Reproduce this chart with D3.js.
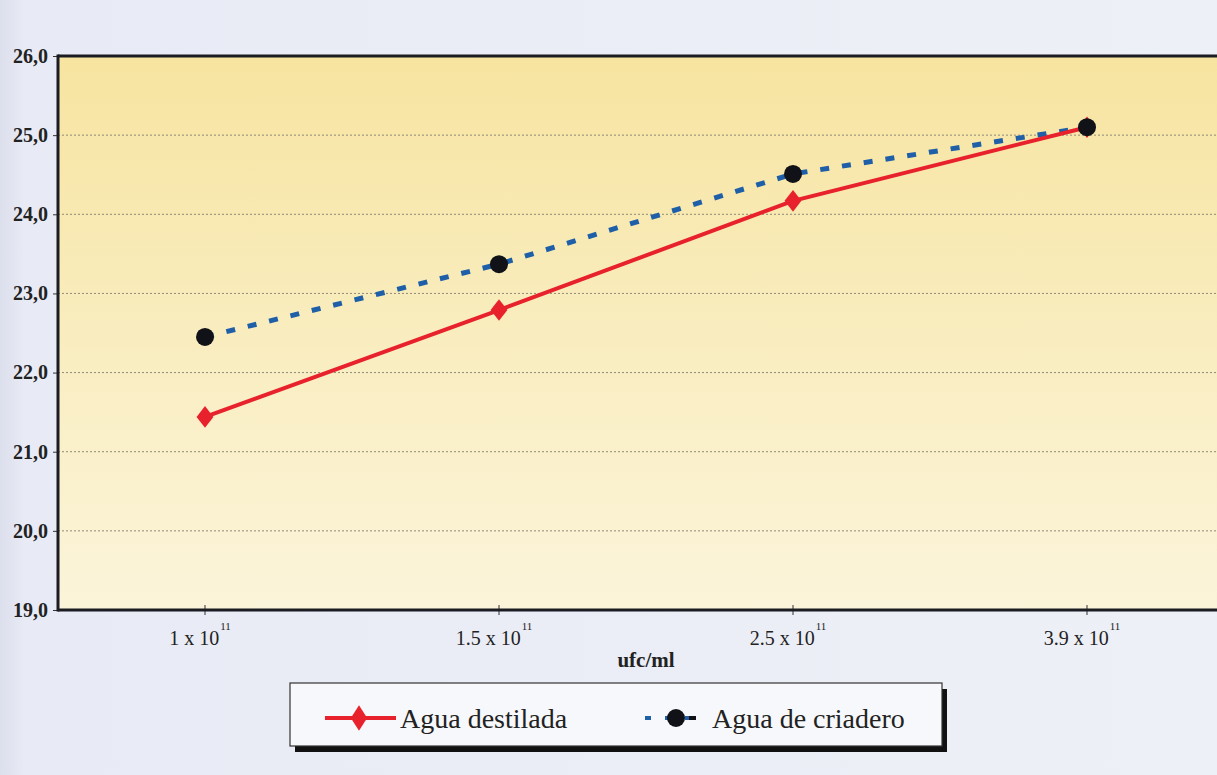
<!DOCTYPE html>
<html>
<head>
<meta charset="utf-8">
<script src="https://cdn.jsdelivr.net/npm/d3@7"></script>
<style>
  body { margin: 0; background: #e9ecf5; overflow: hidden; }
  svg { display: block; }
  text { font-family: "Liberation Serif", "DejaVu Serif", serif; fill: #222; }
</style>
</head>
<body>
<div id="chart"></div>
<script>
// data
var categories = ["1 x 10", "1.5 x 10", "2.5 x 10", "3.9 x 10"];
var exponent = "11";
var destilada = [21.44, 22.79, 24.17, 25.10];
var criadero = [22.45, 23.37, 24.51, 25.10];
var yTicks = [19, 20, 21, 22, 23, 24, 25, 26];

var W = 1217, H = 775;
// plot area runs off the right edge, like the scan
var margin = {top: 56, left: 58},
    plotRight = 1234,
    plotBottom = 610;

var svg = d3.select("#chart").append("svg")
  .attr("width", W)
  .attr("height", H);

var defs = svg.append("defs");
var grad = defs.append("linearGradient")
  .attr("id", "plotbg")
  .attr("x1", 0).attr("y1", 0).attr("x2", 0).attr("y2", 1);
grad.append("stop").attr("offset", "0%").attr("stop-color", "#f7e4a0");
grad.append("stop").attr("offset", "50%").attr("stop-color", "#f9edbf");
grad.append("stop").attr("offset", "100%").attr("stop-color", "#fbf4da");

var pageGrad = defs.append("linearGradient")
  .attr("id", "pagebg")
  .attr("x1", 0).attr("y1", 0).attr("x2", 1).attr("y2", 0);
pageGrad.append("stop").attr("offset", "0%").attr("stop-color", "#dcdfec");
pageGrad.append("stop").attr("offset", "2%").attr("stop-color", "#e8ebf5");
pageGrad.append("stop").attr("offset", "100%").attr("stop-color", "#eef0f7");

svg.append("rect")
  .attr("width", W).attr("height", H)
  .attr("fill", "url(#pagebg)");

var x = d3.scaleBand()
  .domain(categories)
  .range([margin.left, plotRight])
  .padding(0);

var y = d3.scaleLinear()
  .domain([19, 26])
  .range([plotBottom, margin.top]);

function cx(i) { return x(categories[i]) + x.bandwidth() / 2; }

// plot background
svg.append("rect")
  .attr("x", margin.left)
  .attr("y", margin.top)
  .attr("width", plotRight - margin.left)
  .attr("height", plotBottom - margin.top)
  .attr("fill", "url(#plotbg)");

// dotted gridlines
svg.append("g")
  .selectAll("line")
  .data(yTicks.filter(function(d) { return d > 19 && d < 26; }))
  .enter().append("line")
  .attr("x1", margin.left)
  .attr("x2", plotRight)
  .attr("y1", function(d) { return y(d); })
  .attr("y2", function(d) { return y(d); })
  .attr("stroke", "#8f8a78")
  .attr("stroke-width", 1)
  .attr("stroke-dasharray", "2,2");

// y axis
var yAxis = d3.axisLeft(y)
  .tickValues(yTicks)
  .tickSize(5)
  .tickFormat(function(d) { return d3.format(".1f")(d).replace(".", ","); });

var gy = svg.append("g")
  .attr("transform", "translate(" + margin.left + ",0)")
  .call(yAxis);
gy.select(".domain").remove();
gy.selectAll(".tick line").attr("stroke", "#333");
gy.selectAll(".tick text")
  .attr("x", -10)
  .style("font-size", "20px")
  .style("font-weight", "bold")
  .attr("fill", "#2a2a2a");

// frame lines: top, left, bottom
svg.append("line")
  .attr("x1", margin.left).attr("x2", plotRight)
  .attr("y1", margin.top).attr("y2", margin.top)
  .attr("stroke", "#1b1b22").attr("stroke-width", 3);
svg.append("line")
  .attr("x1", margin.left).attr("x2", margin.left)
  .attr("y1", margin.top - 1.5).attr("y2", plotBottom + 1.5)
  .attr("stroke", "#1b1b22").attr("stroke-width", 3);

// x axis
var xAxis = d3.axisBottom(x).tickSize(6).tickFormat("");
var gx = svg.append("g")
  .attr("transform", "translate(0," + plotBottom + ")")
  .call(xAxis);
gx.select(".domain").remove();
gx.selectAll(".tick line")
  .attr("y1", -5).attr("y2", 5)
  .attr("stroke", "#333");
svg.append("line")
  .attr("x1", margin.left).attr("x2", plotRight)
  .attr("y1", plotBottom).attr("y2", plotBottom)
  .attr("stroke", "#1b1b22").attr("stroke-width", 3);

// category labels with exponent
var labels = svg.append("g").selectAll("text")
  .data(categories)
  .enter().append("text")
  .attr("x", function(d) { return x(d) + x.bandwidth() / 2 - 5; })
  .attr("y", 645)
  .attr("text-anchor", "middle")
  .style("font-size", "20px");
labels.append("tspan").text(function(d) { return d; });
labels.append("tspan")
  .attr("dy", -15)
  .attr("dx", 1)
  .style("font-size", "11px")
  .text(exponent);

svg.append("text")
  .attr("x", 646)
  .attr("y", 667)
  .attr("text-anchor", "middle")
  .style("font-size", "21px")
  .style("font-weight", "bold")
  .text("ufc/ml");

// lines
var line = d3.line()
  .x(function(d, i) { return cx(i); })
  .y(function(d) { return y(d); });

svg.append("path")
  .datum(criadero)
  .attr("d", line)
  .attr("fill", "none")
  .attr("stroke", "#1e5fa8")
  .attr("stroke-width", 5)
  .attr("stroke-dasharray", "9,13");

svg.append("path")
  .datum(destilada)
  .attr("d", line)
  .attr("fill", "none")
  .attr("stroke", "#e8222c")
  .attr("stroke-width", 4);

var diamond = d3.symbol().type(d3.symbolDiamond).size(135);

svg.append("g").selectAll("path")
  .data(destilada)
  .enter().append("path")
  .attr("d", diamond)
  .attr("transform", function(d, i) { return "translate(" + cx(i) + "," + y(d) + ") scale(1.35,1)"; })
  .attr("fill", "#e8222c");

svg.append("g").selectAll("circle")
  .data(criadero)
  .enter().append("circle")
  .attr("cx", function(d, i) { return cx(i); })
  .attr("cy", function(d) { return y(d); })
  .attr("r", 9)
  .attr("fill", "#111118");

// legend box with shadow
var lg = svg.append("g");
lg.append("rect")
  .attr("x", 295).attr("y", 689)
  .attr("width", 652).attr("height", 63)
  .attr("fill", "#111");
lg.append("rect")
  .attr("x", 290).attr("y", 683)
  .attr("width", 652).attr("height", 63)
  .attr("fill", "#f7f8fb")
  .attr("stroke", "#333")
  .attr("stroke-width", 1.2);

lg.append("line")
  .attr("x1", 325).attr("x2", 396)
  .attr("y1", 718).attr("y2", 718)
  .attr("stroke", "#e8222c").attr("stroke-width", 4);
lg.append("path")
  .attr("d", d3.symbol().type(d3.symbolDiamond).size(190))
  .attr("transform", "translate(359,718) scale(1.1,1)")
  .attr("fill", "#e8222c");
lg.append("text")
  .attr("x", 400).attr("y", 728)
  .style("font-size", "28px")
  .text("Agua destilada");

lg.append("line")
  .attr("x1", 645).attr("x2", 700)
  .attr("y1", 718).attr("y2", 718)
  .attr("stroke", "#1e5fa8").attr("stroke-width", 4)
  .attr("stroke-dasharray", "6,14");
lg.append("circle")
  .attr("cx", 676).attr("cy", 718).attr("r", 9)
  .attr("fill", "#111118");
lg.append("line")
  .attr("x1", 689).attr("x2", 696)
  .attr("y1", 718).attr("y2", 718)
  .attr("stroke", "#111118").attr("stroke-width", 4);
lg.append("text")
  .attr("x", 712).attr("y", 728)
  .style("font-size", "28px")
  .text("Agua de criadero");
</script>
</body>
</html>
